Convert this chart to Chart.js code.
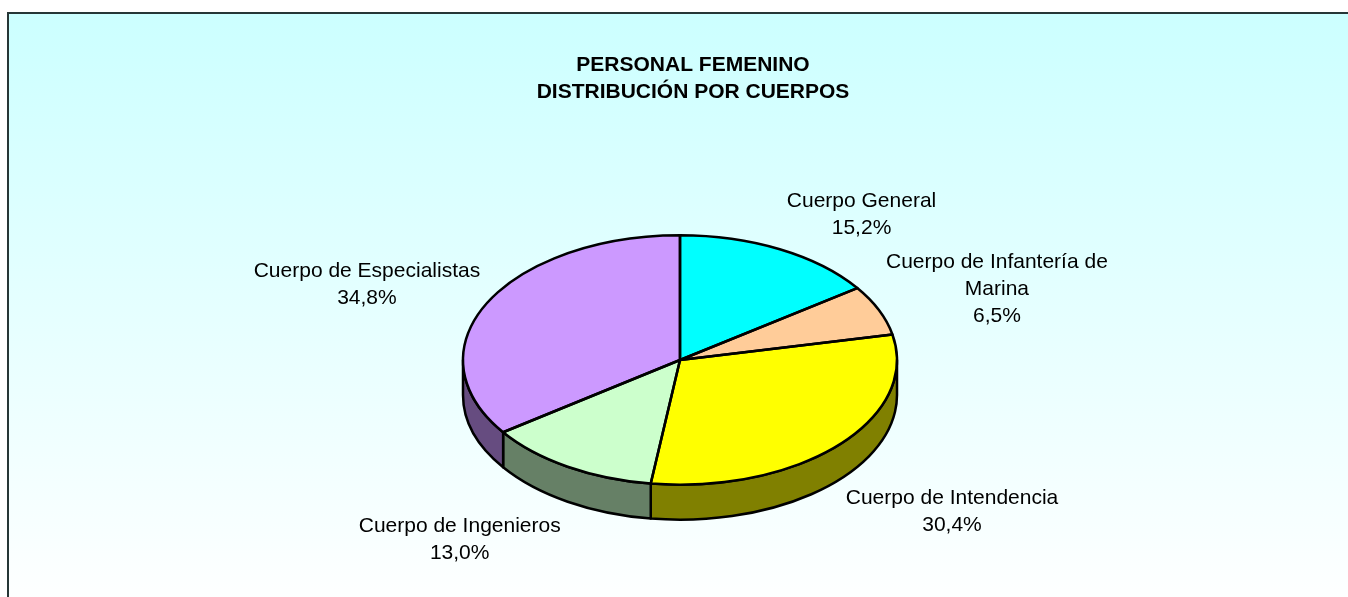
<!DOCTYPE html>
<html>
<head>
<meta charset="utf-8">
<script src="https://cdn.jsdelivr.net/npm/chart.js@4.4.0/dist/chart.umd.min.js"></script>
<style>
    html, body { margin: 0; padding: 0; background: #fff; overflow: hidden; }
    #frame {
        position: absolute; left: 7px; top: 12px; width: 1345px; height: 600px;
        border-left: 2px solid #263636; border-top: 2px solid #263636;
        background: linear-gradient(to bottom, #ccffff 0%, #ffffff 100%);
    }
    #wrap { position: absolute; left: 0; top: 0; width: 1348px; height: 597px; }
</style>
</head>
<body>
<div id="frame"></div>
<div id="wrap"><canvas id="pieChart" width="1348" height="597"></canvas></div>
<script>
const titleLines = ['PERSONAL FEMENINO', 'DISTRIBUCIÓN POR CUERPOS'];
const categories = [
    'Cuerpo General',
    'Cuerpo de Infantería de Marina',
    'Cuerpo de Intendencia',
    'Cuerpo de Ingenieros',
    'Cuerpo de Especialistas'
];
const percentages = [15.2, 6.5, 30.4, 13.0, 34.8];

const topColors = ['#00FFFF', '#FFCC99', '#FFFF00', '#CCFFCC', '#CC99FF'];
const sideColors = ['#008080', '#80664C', '#808000', '#668066', '#664C80'];

const FONT = 'Arial, "Liberation Sans", sans-serif';
const FLAT = 124.7 / 217;   // vertical squash of the pie (tilt)
const DEPTH = 35;           // thickness of the pie
const LINE = 27;            // label line height
const EDGE = 2.5;           // outline width

function pctText(v) {
    return v.toFixed(1).replace('.', ',') + '%';
}

function wrapText(ctx, text, maxWidth) {
    const words = text.split(' ');
    const lines = [];
    let cur = '';
    words.forEach(w => {
        const test = cur ? cur + ' ' + w : w;
        if (cur && ctx.measureText(test).width > maxWidth) {
            lines.push(cur);
            cur = w;
        } else {
            cur = test;
        }
    });
    if (cur) lines.push(cur);
    return lines;
}

function pieGeom(chart) {
    const arcs = chart.getDatasetMeta(0).data;
    const p = arcs[0].getProps(['x', 'y', 'outerRadius'], true);
    return { arcs: arcs, cx: p.x, cy: p.y, r: p.outerRadius, ry: p.outerRadius * FLAT };
}

const pie3d = {
    id: 'pie3d',
    beforeDatasetsDraw(chart) {
        const ctx = chart.ctx;
        const { arcs, cx, cy, r, ry } = pieGeom(chart);
        // side walls, only the front half is visible
        ctx.save();
        ctx.lineWidth = EDGE;
        ctx.strokeStyle = '#000';
        ctx.lineJoin = 'round';
        arcs.forEach((arc, i) => {
            const a1 = Math.max(arc.startAngle, 0);
            const a2 = Math.min(arc.endAngle, Math.PI);
            if (a2 <= a1) return;
            ctx.beginPath();
            ctx.ellipse(cx, cy, r, ry, 0, a1, a2);
            ctx.lineTo(cx + r * Math.cos(a2), cy + ry * Math.sin(a2) + DEPTH);
            ctx.ellipse(cx, cy + DEPTH, r, ry, 0, a2, a1, true);
            ctx.closePath();
            ctx.fillStyle = sideColors[i];
            ctx.fill();
            ctx.stroke();
        });
        ctx.restore();
        // flatten the top face that Chart.js draws
        ctx.save();
        ctx.translate(cx, cy);
        ctx.scale(1, FLAT);
        ctx.translate(-cx, -cy);
    },
    afterDatasetsDraw(chart) {
        const ctx = chart.ctx;
        ctx.restore();
        const { arcs, cx, cy, r, ry } = pieGeom(chart);
        ctx.save();
        ctx.lineWidth = EDGE;
        ctx.strokeStyle = '#000';
        ctx.lineJoin = 'round';
        arcs.forEach(arc => {
            ctx.beginPath();
            ctx.moveTo(cx, cy);
            ctx.ellipse(cx, cy, r, ry, 0, arc.startAngle, arc.endAngle);
            ctx.closePath();
            ctx.stroke();
        });
        ctx.restore();
    },
    afterDraw(chart) {
        const ctx = chart.ctx;
        const { arcs, cx, cy, r, ry } = pieGeom(chart);
        ctx.save();
        ctx.fillStyle = '#000';
        ctx.textAlign = 'center';
        ctx.textBaseline = 'middle';

        // title
        ctx.font = 'bold 21px ' + FONT;
        titleLines.forEach((t, j) => ctx.fillText(t, 693, 65.5 + j * LINE));

        // slice labels
        ctx.font = '21px ' + FONT;
        arcs.forEach((arc, i) => {
            const lines = wrapText(ctx, categories[i], 240).concat(pctText(percentages[i]));
            const hw = Math.max(...lines.map(l => ctx.measureText(l).width)) / 2;
            const hh = lines.length * LINE / 2;
            const mid = (arc.startAngle + arc.endAngle) / 2;
            const c = Math.cos(mid), s = Math.sin(mid);
            const ax = cx + r * c;
            const ay = cy + ry * s + (s > 0 ? DEPTH : 0);
            const bx = ax + Math.sign(c) * (hw + 7);
            const by = ay + s * (hh + 12) + (s > 0 ? 5 : 0);
            lines.forEach((ln, j) => ctx.fillText(ln, bx, by - hh + LINE * (j + 0.5)));
        });
        ctx.restore();
    }
};

const ctx = document.getElementById('pieChart').getContext('2d');
const pieChart = new Chart(ctx, {
    type: 'pie',
    data: {
        labels: categories,
        datasets: [{
            data: percentages,
            backgroundColor: topColors,
            borderWidth: 0
        }]
    },
    options: {
        responsive: false,
        animation: false,
        devicePixelRatio: 1,
        events: [],
        radius: 217,
        layout: { padding: { left: 12, right: 0, top: 123, bottom: 0 } },
        plugins: {
            legend: { display: false },
            title: { display: false },
            tooltip: { enabled: false }
        }
    },
    plugins: [pie3d]
});
</script>
</body>
</html>
